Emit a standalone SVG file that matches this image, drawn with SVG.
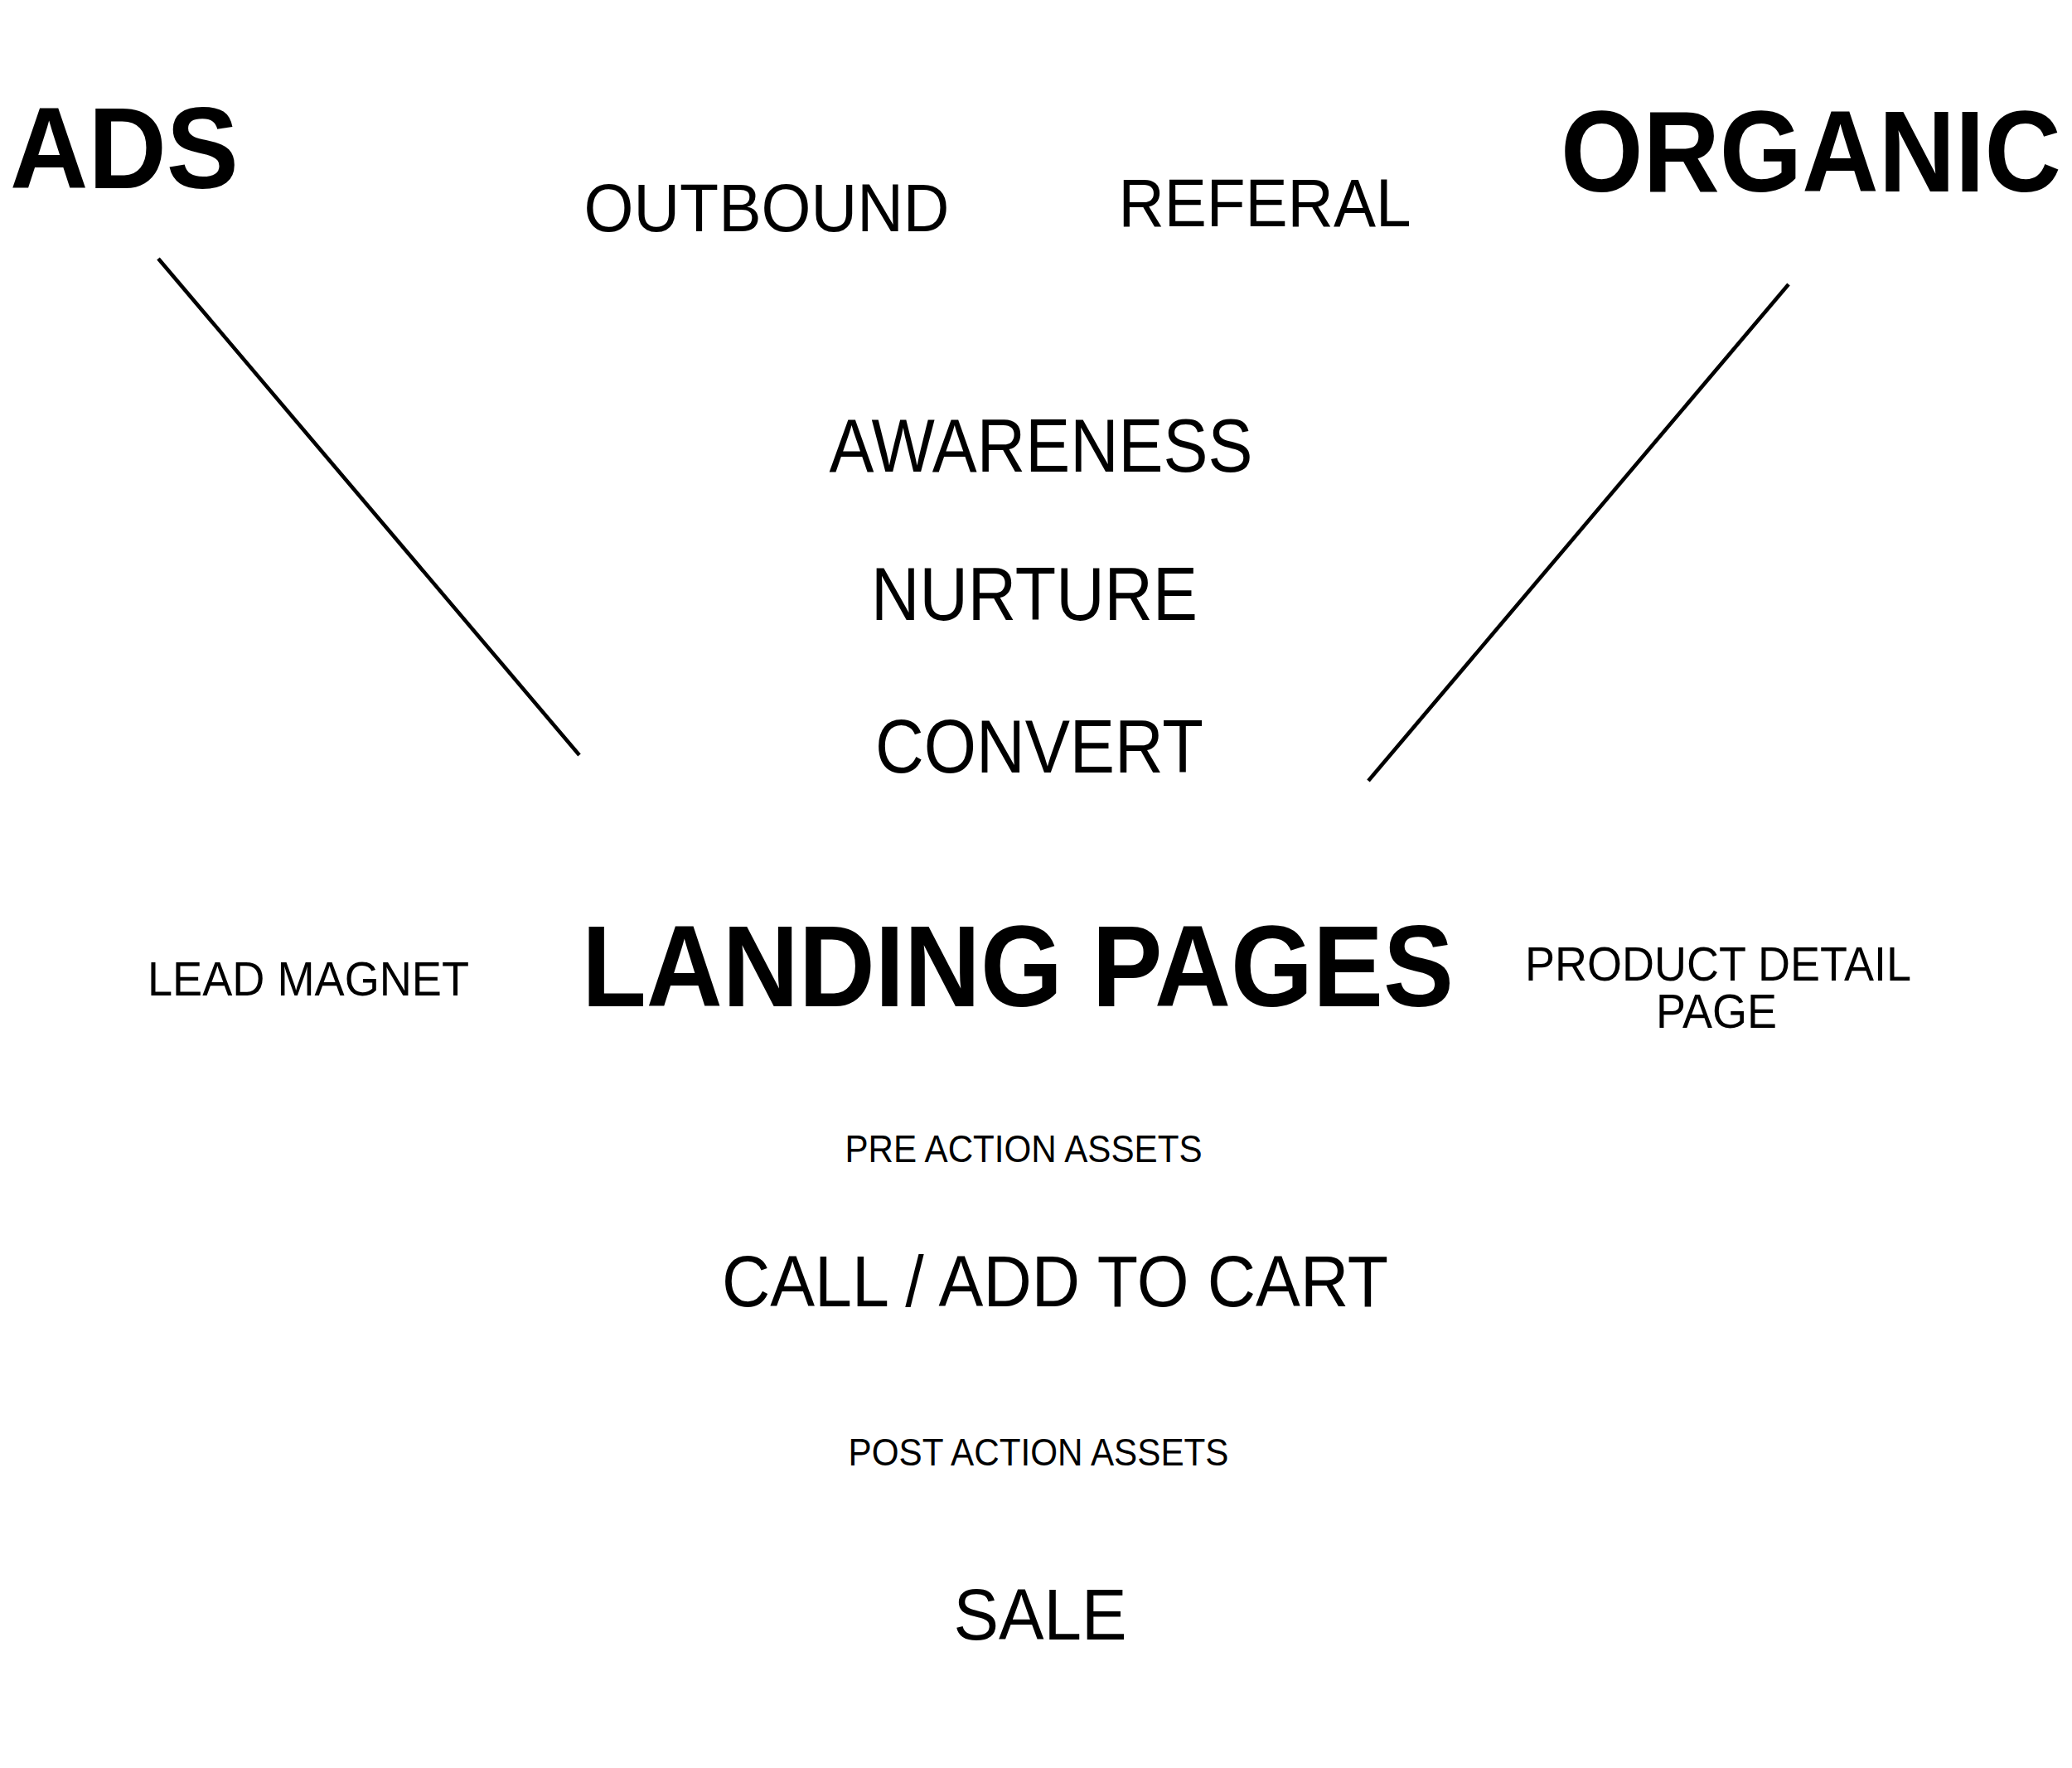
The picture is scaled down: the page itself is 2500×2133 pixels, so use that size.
<svg xmlns="http://www.w3.org/2000/svg" width="2500" height="2133" viewBox="0 0 2500 2133">
<style>
  text { font-family: "Liberation Sans", Arial, Helvetica, sans-serif; fill: #000; text-anchor: middle; }
  .b { font-weight: bold; }
  .conn line { stroke: #000; stroke-width: 4.6; stroke-linecap: butt; }
</style>
<rect width="2500" height="2133" fill="#fff"/>
<g id="connectors" class="conn">
  <line x1="191" y1="312" x2="699" y2="911"/>
  <line x1="2158" y1="343" x2="1651" y2="942"/>
</g>
<g id="ads"><text class="b" x="150" y="227" font-size="140" textLength="276" lengthAdjust="spacingAndGlyphs">ADS</text></g>
<g id="organic"><text class="b" x="2185" y="231" font-size="140" textLength="604" lengthAdjust="spacingAndGlyphs">ORGANIC</text></g>
<g id="outbound"><text x="925" y="279" font-size="82" textLength="441" lengthAdjust="spacingAndGlyphs">OUTBOUND</text></g>
<g id="referal"><text x="1526" y="273" font-size="82" textLength="353" lengthAdjust="spacingAndGlyphs">REFERAL</text></g>
<g id="awareness"><text x="1256" y="569" font-size="91" textLength="511" lengthAdjust="spacingAndGlyphs">AWARENESS</text></g>
<g id="nurture"><text x="1248" y="748" font-size="90" textLength="394" lengthAdjust="spacingAndGlyphs">NURTURE</text></g>
<g id="convert"><text x="1254" y="932" font-size="90" textLength="396" lengthAdjust="spacingAndGlyphs">CONVERT</text></g>
<g id="landing-pages"><text class="b" x="1228" y="1214" font-size="140" textLength="1052" lengthAdjust="spacingAndGlyphs">LANDING PAGES</text></g>
<g id="lead-magnet"><text x="372" y="1201" font-size="58" textLength="388" lengthAdjust="spacingAndGlyphs">LEAD MAGNET</text></g>
<g id="product-detail-page">
  <text x="2073" y="1183" font-size="58" textLength="466" lengthAdjust="spacingAndGlyphs">PRODUCT DETAIL</text>
  <text x="2071" y="1240" font-size="58" textLength="146" lengthAdjust="spacingAndGlyphs">PAGE</text>
</g>
<g id="pre-action-assets"><text x="1235" y="1402" font-size="46" textLength="431" lengthAdjust="spacingAndGlyphs">PRE ACTION ASSETS</text></g>
<g id="call-add-to-cart"><text x="1273" y="1576" font-size="87" textLength="804" lengthAdjust="spacingAndGlyphs">CALL / ADD TO CART</text></g>
<g id="post-action-assets"><text x="1253" y="1768" font-size="46" textLength="459" lengthAdjust="spacingAndGlyphs">POST ACTION ASSETS</text></g>
<g id="sale"><text x="1255" y="1978" font-size="88" textLength="209" lengthAdjust="spacingAndGlyphs">SALE</text></g>
</svg>
